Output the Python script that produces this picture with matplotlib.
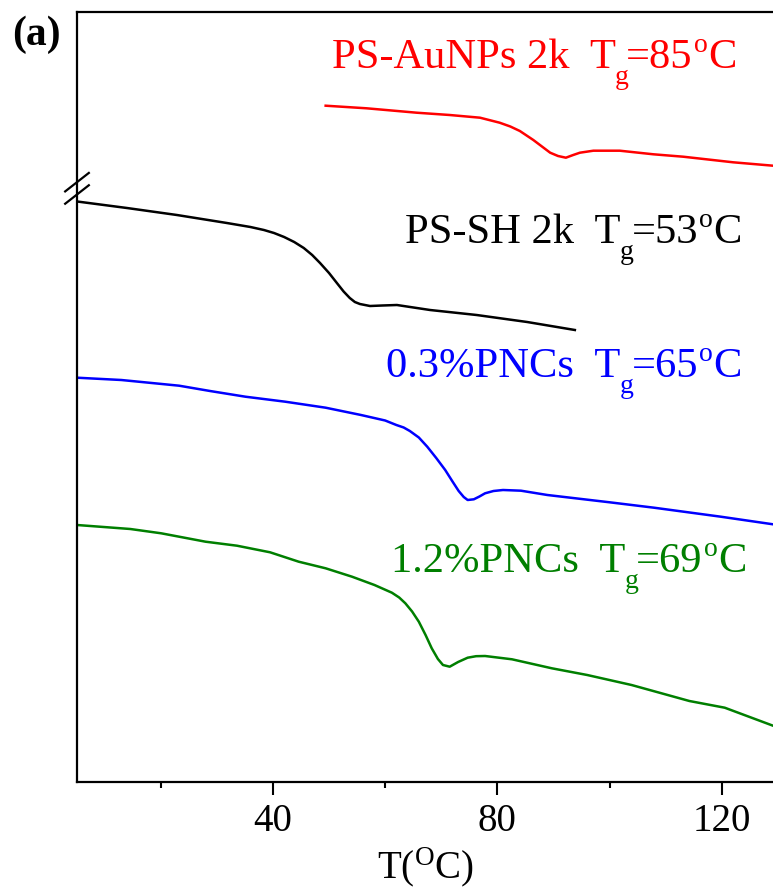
import matplotlib
matplotlib.use("Agg")
import matplotlib.pyplot as plt
from matplotlib.transforms import IdentityTransform

plt.rcParams["font.family"] = ["Liberation Serif", "DejaVu Serif"]
plt.rcParams["mathtext.fontset"] = "custom"
plt.rcParams["mathtext.rm"] = "Liberation Serif"
plt.rcParams["mathtext.it"] = "Liberation Serif:italic"
plt.rcParams["mathtext.bf"] = "Liberation Serif:bold"

# DSC traces (temperature in degC, heat flow in arbitrary units, stacked)
t_auNPs = [49.4, 56.7, 65.6, 71.5, 76.9, 80.4, 82.3, 84.0, 86.4, 89.4, 90.8,
           92.2, 93.5, 94.7, 97.1, 101.8, 107.8, 113.1, 122.0, 129.1]
hf_auNPs = [676.3, 673.7, 669.3, 667.0, 664.3, 659.3, 655.5, 651.0, 642.0,
            629.3, 626.0, 624.3, 627.0, 629.3, 631.3, 631.3, 627.7, 625.3,
            619.7, 616.3]

t_sh = [5.4, 14.0, 22.9, 31.8, 36.0, 38.4, 40.2, 42.0, 43.8, 45.5, 47.0,
        48.4, 50.0, 51.4, 52.6, 53.7, 54.6, 55.5, 57.3, 59.5, 62.1, 68.0,
        76.3, 85.3, 93.8]
hf_sh = [580.3, 574.0, 567.0, 559.0, 555.0, 552.0, 549.0, 545.0, 540.0,
         534.0, 527.0, 519.0, 509.0, 499.0, 490.5, 484.0, 480.0, 478.0,
         476.0, 476.5, 477.0, 472.0, 467.0, 460.0, 452.0]

t_pnc03 = [5.1, 13.0, 23.3, 28.8, 35.1, 42.2, 49.4, 55.7, 60.0, 62.0, 63.3,
           64.4, 66.0, 67.5, 69.1, 70.7, 72.0, 73.1, 74.0, 74.7, 75.8, 76.8,
           77.8, 79.3, 81.0, 84.2, 88.9, 100.0, 107.9, 119.8, 129.1]
hf_pnc03 = [404.3, 402.0, 396.3, 391.0, 385.3, 380.3, 374.3, 367.0, 361.5,
            357.0, 354.5, 351.0, 344.5, 335.3, 324.0, 312.0, 300.5, 291.0,
            285.0, 282.0, 282.7, 285.5, 288.7, 291.0, 292.0, 291.3, 287.0,
            279.7, 274.3, 265.3, 257.7]

t_pnc12 = [5.1, 14.6, 20.1, 28.0, 33.6, 39.5, 44.6, 49.4, 54.1, 58.1, 61.2,
           62.5, 63.6, 64.8, 66.0, 67.2, 68.3, 69.4, 70.3, 71.5, 73.0, 74.7,
           76.2, 77.8, 82.6, 89.7, 96.0, 103.9, 114.2, 120.5, 129.1]
hf_pnc12 = [257.0, 253.0, 248.7, 240.3, 236.3, 229.7, 220.3, 213.7, 205.3,
            197.0, 189.3, 184.5, 178.7, 170.5, 160.3, 147.0, 133.7, 123.0,
            117.0, 115.3, 120.0, 124.3, 125.8, 126.0, 122.7, 113.7, 107.0,
            97.0, 81.0, 74.3, 56.3]

names = ["PS-AuNPs 2k", "PS-SH 2k", "0.3%PNCs", "1.2%PNCs"]
tg_values = [85, 53, 65, 69]
colors = ["#ff0000", "#000000", "#0000ff", "#007f00"]
series = [(t_auNPs, hf_auNPs), (t_sh, hf_sh), (t_pnc03, hf_pnc03),
          (t_pnc12, hf_pnc12)]

x_ticks = [40, 80, 120]
x_minor = [20, 60, 100]

W, H = 773, 893
fig = plt.figure(figsize=(W / 100, H / 100), dpi=100)
ax = fig.add_axes([77 / W, 1 - 782 / H, 696 / W, 770 / H])

for (t, hf), c in zip(series, colors):
    ax.plot(t, hf, color=c, lw=1.8, solid_joinstyle="round")

ax.set_xlim(5.1, 129.1)
ax.set_ylim(0, 770)
ax.set_xticks(x_ticks)
ax.set_xticks(x_minor, minor=True)
ax.set_yticks([])
ax.tick_params(axis="x", which="major", direction="out", length=9, width=1.5,
               labelsize=28, pad=6)
ax.tick_params(axis="x", which="minor", direction="out", length=4.5, width=1.5)
ax.spines["right"].set_visible(False)
for s in ("left", "bottom", "top"):
    ax.spines[s].set_linewidth(1.6)

ax.set_xlabel(r"T($^\mathrm{O}$C)", fontsize=28, labelpad=4)

# axis break marks on the left spine
for yc in (0.779, 0.763):
    ax.plot([-0.017, 0.017], [yc - 0.012, yc + 0.012], transform=ax.transAxes,
            color="black", lw=1.6, clip_on=False)

fig.text(12 / W, 1 - 35 / H, "(a)", fontsize=30, fontweight="bold",
         ha="left", va="center")

# curve labels: name, T with lowered subscript g, value, raised "o", C
renderer = fig.canvas.get_renderer()
MAIN, SMALL = 30.6, 20
SUB_DROP, SUP_RISE = 16, 16


def glass_label(name, tg, color, right_px, base_px):
    parts = [(name + "  T", MAIN, 0, -1),
             ("g", SMALL, -SUB_DROP, -2),
             ("=" + str(tg), MAIN, 0, 1),
             ("o", SMALL, SUP_RISE, 1),
             ("C", MAIN, 0, 0)]
    texts = []
    x = 0.0
    for s, size, dy, gap in parts:
        t = fig.text(x, H - base_px + dy, s, fontsize=size, color=color,
                     ha="left", va="baseline", transform=IdentityTransform())
        bb = t.get_window_extent(renderer)
        texts.append((t, x))
        x += bb.width + gap
    shift = right_px - x
    for t, x0 in texts:
        t.set_x(x0 + shift)


label_places = [(737, 68), (742, 243), (742, 377), (747, 572)]
for name, tg, c, (xr, yb) in zip(names, tg_values, colors, label_places):
    glass_label(name, tg, c, xr, yb)

fig.savefig("out.png", dpi=100)
